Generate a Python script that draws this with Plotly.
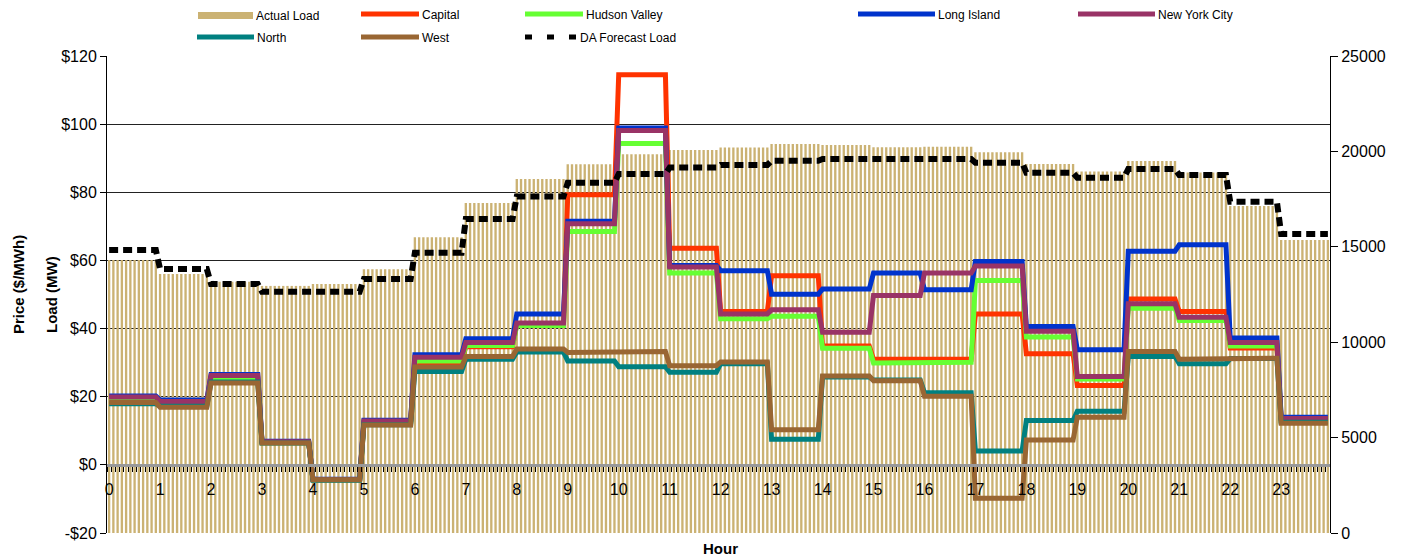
import plotly.graph_objects as go

# ---------------- data (hourly values) ----------------
hours = list(range(24))
hour_labels = [str(h) for h in hours]
intervals_per_hour = 12  # 5-minute intervals

actual_load = [14310, 13580, 13170, 12950, 13050, 13820, 15500, 17300, 18550, 19330, 19850, 20070,
               20210, 20390, 20340, 20220, 20250, 19950, 19340, 18940, 19500, 18900, 17140, 15360]
da_forecast = [14830, 13840, 13050, 12650, 12650, 13310, 14690, 16460, 17630, 18360, 18820, 19150,
               19290, 19510, 19600, 19620, 19600, 19410, 18880, 18620, 19080, 18760, 17360, 15670]

capital = [19.0, 18.0, 25.5, 6.6, -4.4, 12.5, 30.0, 34.7, 41.5, 79.3, 114.5, 63.6,
           45.0, 55.5, 34.9, 31.0, 31.0, 44.3, 32.6, 23.3, 48.7, 45.0, 34.3, 12.8]
hudson_valley = [18.7, 17.8, 25.2, 6.5, -4.4, 12.3, 30.5, 35.0, 40.9, 68.5, 94.3, 56.3,
                 42.9, 43.6, 34.2, 29.9, 30.1, 54.1, 37.5, 25.2, 46.0, 42.4, 34.9, 13.0]
long_island = [20.2, 19.0, 26.5, 6.9, -4.2, 13.1, 32.3, 37.0, 44.3, 71.5, 98.9, 58.5,
               57.0, 50.1, 51.6, 56.3, 51.4, 59.7, 40.6, 33.8, 62.7, 64.6, 37.2, 14.0]
new_york_city = [19.9, 18.6, 26.2, 6.8, -4.3, 12.9, 31.6, 35.9, 41.6, 70.8, 98.1, 58.1,
                 44.3, 45.5, 38.9, 49.7, 56.3, 58.4, 39.2, 25.9, 47.3, 43.3, 35.9, 13.6]
north = [17.9, 17.2, 24.3, 6.4, -4.5, 11.8, 27.4, 31.0, 33.1, 30.5, 28.8, 27.2,
         29.7, 7.5, 25.8, 24.9, 21.2, 4.1, 13.0, 15.7, 31.8, 29.7, 31.2, 12.5]
west = [18.3, 16.9, 24.0, 6.4, -4.4, 11.7, 28.7, 31.8, 34.0, 33.0, 33.3, 29.1,
        30.2, 10.3, 26.1, 24.7, 20.1, -9.8, 7.3, 14.0, 33.3, 31.0, 31.3, 12.2]

price_ticks = [-20, 0, 20, 40, 60, 80, 100, 120]
price_tick_labels = ["-$20", "$0", "$20", "$40", "$60", "$80", "$100", "$120"]
load_ticks = [0, 5000, 10000, 15000, 20000, 25000]
load_tick_labels = ["0", "5000", "10000", "15000", "20000", "25000"]

# ---------------- expand hourly values to 5-minute intervals ----------------
n = len(hours) * intervals_per_hour
x5 = [i / intervals_per_hour + 0.5 / intervals_per_hour for i in range(n)]


def expand(vals):
    return [vals[i // intervals_per_hour] for i in range(n)]


FONT = "Liberation Sans, Arial, sans-serif"
TAN = "#CBB273"
series = [
    ("Capital", capital, "#FF3300"),
    ("Hudson Valley", hudson_valley, "#66FF33"),
    ("Long Island", long_island, "#0033CC"),
    ("New York City", new_york_city, "#993366"),
    ("North", north, "#008080"),
    ("West", west, "#996633"),
]

fig = go.Figure()
fig.add_trace(go.Bar(x=x5, y=expand(actual_load), name="Actual Load", marker_color=TAN,
                     marker_line_width=0, yaxis="y", showlegend=False))
for name, vals, col in series:
    fig.add_trace(go.Scatter(x=x5, y=expand(vals), name=name, mode="lines",
                             line=dict(color=col, width=5), yaxis="y2", showlegend=False))
fig.add_trace(go.Scatter(x=x5, y=expand(da_forecast), name="DA Forecast Load", mode="lines",
                         line=dict(color="black", width=6, dash="9px,5px"), yaxis="y3",
                         showlegend=False))

# ---------------- layout ----------------
# page body has an 8px margin: the figure is offset by (8, 8) on screen
OFF = 8
W, H = 1406 - OFF, 557 - OFF
L, R, T, B = 107 - OFF, 1330 - OFF, 56 - OFF, 533 - OFF


def px(x):  # screen x -> paper
    return (x - OFF - L) / (R - L)


def py(y):  # screen y -> paper
    return (B - (y - OFF)) / (B - T)


fig.update_layout(
    width=W, height=H,
    margin=dict(l=L, r=W - R, t=T, b=H - B, autoexpand=False),
    paper_bgcolor="white", plot_bgcolor="white",
    font=dict(family=FONT, size=16, color="black"),
    bargap=0.45,
    showlegend=False,
    xaxis=dict(range=[0, 24], anchor="free", position=20 / 140,
               tickmode="array", tickvals=[h + 0.5 / intervals_per_hour for h in hours],
               ticktext=hour_labels, ticks="", ticklabelstandoff=9,
               tickfont=dict(size=16),
               showline=True, linecolor="#999999", linewidth=3, showgrid=False, zeroline=False,
               minor=dict(tickmode="linear", tick0=0, dtick=1 / intervals_per_hour,
                          ticks="outside", ticklen=5, tickcolor="black", tickwidth=1)),
    yaxis=dict(range=[0, 25000], side="right", tickmode="array", tickvals=load_ticks,
               ticktext=load_tick_labels,
               ticks="outside", ticklen=7, tickcolor="black", showline=True, linecolor="black",
               linewidth=1, showgrid=False, zeroline=False, tickfont=dict(size=16)),
    yaxis2=dict(range=[-20, 120], overlaying="y", side="left", tickmode="array",
                tickvals=price_ticks, ticktext=price_tick_labels, ticks="outside", ticklen=6,
                tickcolor="black", showline=True, linecolor="black", linewidth=1,
                showgrid=True, gridcolor="#222222", gridwidth=1, zeroline=False,
                tickfont=dict(size=16)),
    yaxis3=dict(range=[0, 25000], overlaying="y", visible=False, showgrid=False, zeroline=False),
)

# ---------------- custom legend ----------------
shapes = []
annotations = []
leg = [
    ("Actual Load", "rect", TAN, 198, 253, 15),
    ("Capital", "line", "#FF3300", 361, 419, 14),
    ("Hudson Valley", "line", "#66FF33", 525, 583, 14),
    ("Long Island", "line", "#0033CC", 858, 935, 14),
    ("New York City", "line", "#993366", 1078, 1155, 14),
    ("North", "line", "#008080", 197, 254, 37),
    ("West", "line", "#996633", 361, 419, 37),
    ("DA Forecast Load", "dash", "black", 525, 577, 37),
]
for text, kind, col, x0, x1, yy in leg:
    if kind == "rect":
        shapes.append(dict(type="rect", xref="paper", yref="paper", x0=px(x0), x1=px(x1),
                           y0=py(yy + 4), y1=py(yy - 3), fillcolor=col, line_width=0))
    elif kind == "line":
        shapes.append(dict(type="line", xref="paper", yref="paper", x0=px(x0), x1=px(x1),
                           y0=py(yy), y1=py(yy), line=dict(color=col, width=5)))
    else:
        shapes.append(dict(type="line", xref="paper", yref="paper", x0=px(x0), x1=px(x1),
                           y0=py(yy), y1=py(yy), line=dict(color=col, width=5, dash="7px,15px")))
    annotations.append(dict(text=text, xref="paper", yref="paper", x=px(x1 + 1), y=py(yy + 1),
                            xanchor="left", yanchor="middle", showarrow=False,
                            font=dict(family=FONT, size=12, color="black")))

# axis titles
annotations.append(dict(text="<b>Price ($/MWh)</b>", xref="paper", yref="paper", x=px(18),
                        y=py(285), textangle=-90, showarrow=False, xanchor="center",
                        yanchor="middle", font=dict(family=FONT, size=15)))
annotations.append(dict(text="<b>Load (MW)</b>", xref="paper", yref="paper", x=px(51),
                        y=py(295), textangle=-90, showarrow=False, xanchor="center",
                        yanchor="middle", font=dict(family=FONT, size=15)))
annotations.append(dict(text="<b>Hour</b>", xref="paper", yref="paper", x=px(720),
                        y=py(548), showarrow=False, xanchor="center", yanchor="middle",
                        font=dict(family=FONT, size=15)))

fig.update_layout(shapes=shapes, annotations=annotations)

fig.write_html("out.html")
